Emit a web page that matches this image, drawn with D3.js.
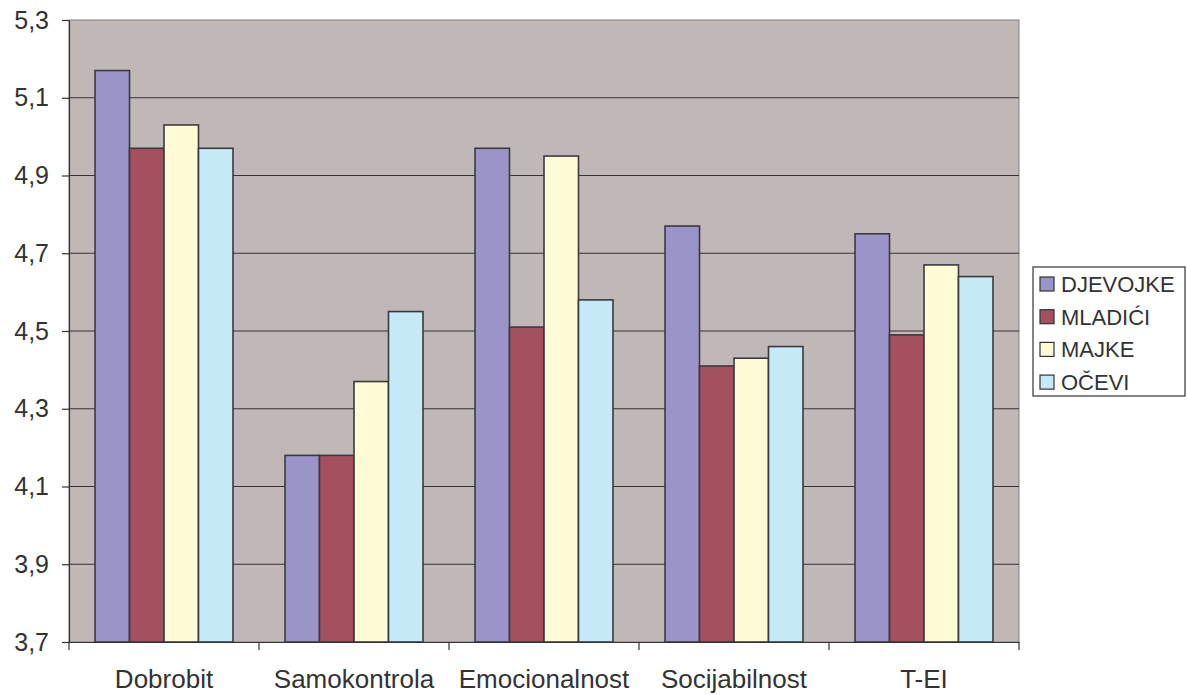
<!DOCTYPE html>
<html>
<head>
<meta charset="utf-8">
<script src="https://cdn.jsdelivr.net/npm/d3@7"></script>
<style>
  body { margin: 0; background: #fff; }
  svg { display: block; font-family: "Liberation Sans", Arial, sans-serif; }
</style>
</head>
<body>
<svg id="chart"></svg>
<script>
// dati
const categories = ["Dobrobit", "Samokontrola", "Emocionalnost", "Socijabilnost", "T-EI"];
const seriesNames = ["DJEVOJKE", "MLADIĆI", "MAJKE", "OČEVI"];
const djevojke = [5.17, 4.18, 4.97, 4.77, 4.75];
const mladici = [4.97, 4.18, 4.51, 4.41, 4.49];
const majke = [5.03, 4.37, 4.95, 4.43, 4.67];
const ocevi = [4.97, 4.55, 4.58, 4.46, 4.64];
const yTicks = [3.7, 3.9, 4.1, 4.3, 4.5, 4.7, 4.9, 5.1, 5.3];

const colors = ["#9b94c8", "#a5505f", "#fffbd6", "#c6e9f8"];
const seriesValues = [djevojke, mladici, majke, ocevi];

const width = 1187;
const height = 695;
const margin = { top: 20, right: 168, bottom: 53, left: 69 };
const innerWidth = width - margin.left - margin.right;
const innerHeight = height - margin.top - margin.bottom;

const table = categories.map((c, i) => ({
    category: c,
    values: seriesNames.map((s, j) => ({ series: s, value: seriesValues[j][i], color: colors[j] }))
}));

const svg = d3.select("#chart")
    .attr("width", width)
    .attr("height", height);

const g = svg.append("g")
    .attr("transform", `translate(${margin.left},${margin.top})`);

const x0 = d3.scaleBand()
    .domain(categories)
    .range([0, innerWidth])
    .padding(0);

const x1 = d3.scaleBand()
    .domain(seriesNames)
    .range([0, x0.bandwidth()])
    .paddingInner(0)
    .paddingOuter(0.754);

const y = d3.scaleLinear()
    .domain([3.7, 5.3])
    .range([innerHeight, 0]);

// sfondo area del grafico
g.append("rect")
    .attr("x", 0)
    .attr("y", 0)
    .attr("width", innerWidth)
    .attr("height", innerHeight)
    .attr("fill", "#c0b8b6")
    .attr("stroke", "#808080")
    .attr("stroke-width", 1);

// griglia
g.selectAll(".grid")
    .data(yTicks.slice(1, -1))
    .enter()
    .append("line")
    .attr("class", "grid")
    .attr("x1", 0)
    .attr("x2", innerWidth)
    .attr("y1", d => y(d))
    .attr("y2", d => y(d))
    .attr("stroke", "#333")
    .attr("stroke-width", 1.2);

// barre
const groups = g.selectAll(".group")
    .data(table)
    .enter()
    .append("g")
    .attr("class", "group")
    .attr("transform", d => `translate(${x0(d.category)},0)`);

groups.selectAll("rect")
    .data(d => d.values)
    .enter()
    .append("rect")
    .attr("x", d => x1(d.series))
    .attr("y", d => y(d.value))
    .attr("width", x1.bandwidth())
    .attr("height", d => innerHeight - y(d.value))
    .attr("fill", d => d.color)
    .attr("stroke", "#3a3a3e")
    .attr("stroke-width", 1.6);

// asse y
const yAxis = d3.axisLeft(y)
    .tickValues(yTicks)
    .tickSize(7)
    .tickSizeOuter(0)
    .tickFormat(d => d3.format(".1f")(d).replace(".", ","));

const yG = g.append("g").call(yAxis);
yG.select(".domain").attr("stroke", "#333").attr("stroke-width", 1.2);
yG.selectAll(".tick line").attr("stroke", "#333").attr("stroke-width", 1.2);
yG.selectAll(".tick text")
    .attr("x", -20)
    .attr("font-size", 25)
    .attr("font-family", "Liberation Sans, Arial, sans-serif")
    .attr("fill", "#333");

// asse x
const xAxis = d3.axisBottom(x0).tickSize(0).tickSizeOuter(0);
const xG = g.append("g")
    .attr("transform", `translate(0,${innerHeight})`)
    .call(xAxis);
xG.select(".domain").attr("stroke", "#333").attr("stroke-width", 1.2);
xG.selectAll(".tick text")
    .attr("y", 46)
    .attr("dy", 0)
    .attr("font-size", 26)
    .attr("font-family", "Liberation Sans, Arial, sans-serif")
    .attr("fill", "#333");

// tacche tra le categorie
const boundaries = categories.map(c => x0(c)).concat([innerWidth]);
xG.selectAll(".sep")
    .data(boundaries)
    .enter()
    .append("line")
    .attr("class", "sep")
    .attr("x1", d => d)
    .attr("x2", d => d)
    .attr("y1", 0)
    .attr("y2", 8)
    .attr("stroke", "#333")
    .attr("stroke-width", 1.2);

// legenda
const legend = svg.append("g")
    .attr("transform", "translate(1033,267)");

legend.append("rect")
    .attr("width", 152)
    .attr("height", 129)
    .attr("fill", "#fff")
    .attr("stroke", "#333")
    .attr("stroke-width", 1.2);

const items = legend.selectAll(".item")
    .data(seriesNames)
    .enter()
    .append("g")
    .attr("class", "item")
    .attr("transform", (d, i) => `translate(0,${17 + i * 32.7})`);

items.append("rect")
    .attr("x", 7)
    .attr("y", -7)
    .attr("width", 14)
    .attr("height", 14)
    .attr("fill", (d, i) => colors[i])
    .attr("stroke", "#333")
    .attr("stroke-width", 1.2);

items.append("text")
    .attr("x", 28)
    .attr("y", 8)
    .attr("font-size", 22)
    .attr("fill", "#333")
    .text(d => d);
</script>
</body>
</html>
